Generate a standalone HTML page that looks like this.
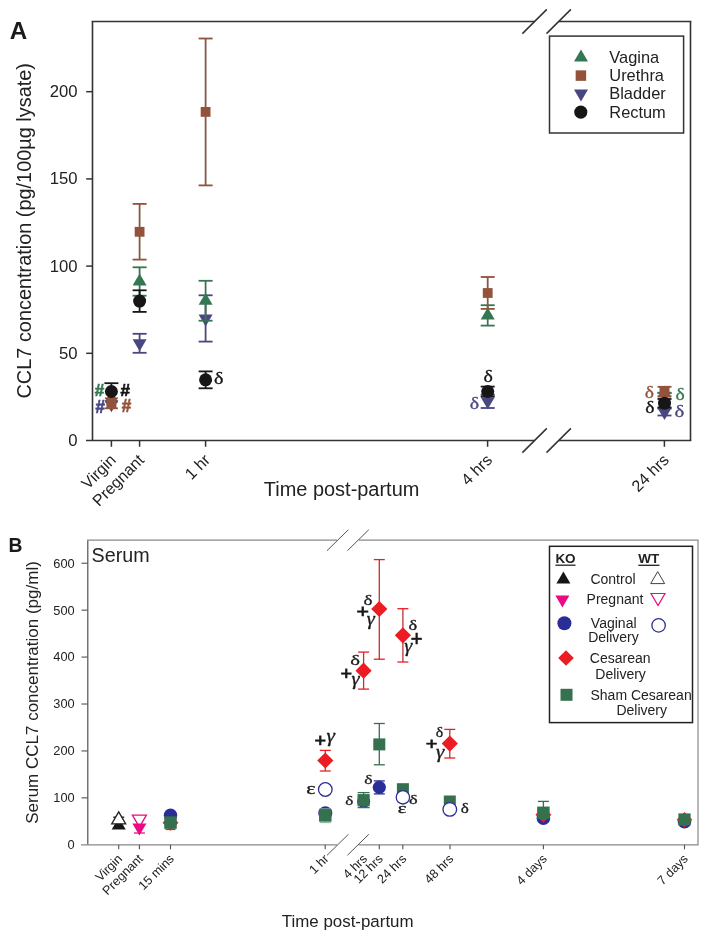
<!DOCTYPE html>
<html><head><meta charset="utf-8"><style>
html,body{margin:0;padding:0;background:#fff;}
svg{display:block;will-change:transform;}
</style></head><body>
<svg width="708" height="940" viewBox="0 0 708 940">
<rect width="708" height="940" fill="#fff"/>
<line x1="92.5" y1="21.5" x2="92.5" y2="440.5" stroke="#333333" stroke-width="1.6"/>
<line x1="91.7" y1="21.5" x2="534.5" y2="21.5" stroke="#333333" stroke-width="1.6"/>
<line x1="558.6" y1="21.5" x2="691.3" y2="21.5" stroke="#333333" stroke-width="1.6"/>
<line x1="690.5" y1="21.5" x2="690.5" y2="440.5" stroke="#333333" stroke-width="1.6"/>
<line x1="86" y1="440.5" x2="534.5" y2="440.5" stroke="#333333" stroke-width="1.6"/>
<line x1="558.6" y1="440.5" x2="691.3" y2="440.5" stroke="#333333" stroke-width="1.6"/>
<line x1="522.4" y1="33.6" x2="546.8000000000001" y2="9.4" stroke="#333333" stroke-width="1.5"/>
<line x1="522.4" y1="452.6" x2="546.8000000000001" y2="428.4" stroke="#333333" stroke-width="1.5"/>
<line x1="546.5" y1="33.6" x2="570.9000000000001" y2="9.4" stroke="#333333" stroke-width="1.5"/>
<line x1="546.5" y1="452.6" x2="570.9000000000001" y2="428.4" stroke="#333333" stroke-width="1.5"/>
<text x="77.6" y="446.0" font-family='"Liberation Sans", sans-serif' font-size="16.7" fill="#222222" text-anchor="end" font-weight="normal" >0</text>
<line x1="86.2" y1="353.3" x2="92.5" y2="353.3" stroke="#333333" stroke-width="1.5"/>
<text x="77.6" y="358.8" font-family='"Liberation Sans", sans-serif' font-size="16.7" fill="#222222" text-anchor="end" font-weight="normal" >50</text>
<line x1="86.2" y1="266.1" x2="92.5" y2="266.1" stroke="#333333" stroke-width="1.5"/>
<text x="77.6" y="271.6" font-family='"Liberation Sans", sans-serif' font-size="16.7" fill="#222222" text-anchor="end" font-weight="normal" >100</text>
<line x1="86.2" y1="178.89999999999998" x2="92.5" y2="178.89999999999998" stroke="#333333" stroke-width="1.5"/>
<text x="77.6" y="184.39999999999998" font-family='"Liberation Sans", sans-serif' font-size="16.7" fill="#222222" text-anchor="end" font-weight="normal" >150</text>
<line x1="86.2" y1="91.69999999999999" x2="92.5" y2="91.69999999999999" stroke="#333333" stroke-width="1.5"/>
<text x="77.6" y="97.19999999999999" font-family='"Liberation Sans", sans-serif' font-size="16.7" fill="#222222" text-anchor="end" font-weight="normal" >200</text>
<line x1="111.4" y1="440.5" x2="111.4" y2="446.8" stroke="#333333" stroke-width="1.5"/>
<text transform="translate(116.9,461) rotate(-45)" font-family='"Liberation Sans", sans-serif' font-size="16.1" fill="#222222" text-anchor="end">Virgin</text>
<line x1="139.6" y1="440.5" x2="139.6" y2="446.8" stroke="#333333" stroke-width="1.5"/>
<text transform="translate(145.1,461) rotate(-45)" font-family='"Liberation Sans", sans-serif' font-size="16.1" fill="#222222" text-anchor="end">Pregnant</text>
<line x1="205.6" y1="440.5" x2="205.6" y2="446.8" stroke="#333333" stroke-width="1.5"/>
<text transform="translate(211.1,461) rotate(-45)" font-family='"Liberation Sans", sans-serif' font-size="16.1" fill="#222222" text-anchor="end">1 hr</text>
<line x1="487.6" y1="440.5" x2="487.6" y2="446.8" stroke="#333333" stroke-width="1.5"/>
<text transform="translate(493.1,461) rotate(-45)" font-family='"Liberation Sans", sans-serif' font-size="16.1" fill="#222222" text-anchor="end">4 hrs</text>
<line x1="664.4" y1="440.5" x2="664.4" y2="446.8" stroke="#333333" stroke-width="1.5"/>
<text transform="translate(669.9,461) rotate(-45)" font-family='"Liberation Sans", sans-serif' font-size="16.1" fill="#222222" text-anchor="end">24 hrs</text>
<text x="341.6" y="495.6" font-family='"Liberation Sans", sans-serif' font-size="19.95" fill="#222222" text-anchor="middle" font-weight="normal" >Time post-partum</text>
<text transform="translate(31,230.8) rotate(-90)" font-family='"Liberation Sans", sans-serif' font-size="19.9" fill="#222222" text-anchor="middle">CCL7 concentration (pg/100&#181;g lysate)</text>
<text x="9.8" y="38.7" font-family='"Liberation Sans", sans-serif' font-size="24.2" fill="#1a1a1a" text-anchor="start" font-weight="bold" >A</text>
<rect x="549.5" y="36.1" width="134.1" height="96.9" fill="#fff" stroke="#333333" stroke-width="1.5"/>
<polygon points="574.0,61.4 588.0,61.4 581,49.4" fill="#347853"/>
<rect x="575.65" y="70.35" width="10.5" height="10.5" fill="#94523a"/>
<polygon points="574.0,89.4 588.0,89.4 581,101.4" fill="#494782"/>
<circle cx="580.8" cy="112.1" r="6.6" fill="#161616"/>
<text x="609.3" y="62.9" font-family='"Liberation Sans", sans-serif' font-size="16.4" fill="#222222" text-anchor="start" font-weight="normal" >Vagina</text>
<text x="609.3" y="81.1" font-family='"Liberation Sans", sans-serif' font-size="16.4" fill="#222222" text-anchor="start" font-weight="normal" >Urethra</text>
<text x="609.3" y="99.3" font-family='"Liberation Sans", sans-serif' font-size="16.4" fill="#222222" text-anchor="start" font-weight="normal" >Bladder</text>
<text x="609.3" y="117.5" font-family='"Liberation Sans", sans-serif' font-size="16.4" fill="#222222" text-anchor="start" font-weight="normal" >Rectum</text>
<polygon points="104.4,402.5 118.4,402.5 111.4,390.5" fill="#347853"/>
<polygon points="104.4,400.3 118.4,400.3 111.4,412.3" fill="#494782"/>
<line x1="111.4" y1="398.3" x2="111.4" y2="408.3" stroke="#855746" stroke-width="1.8"/>
<line x1="104.9" y1="398.3" x2="117.9" y2="398.3" stroke="#94523a" stroke-width="1.8"/>
<line x1="104.9" y1="408.3" x2="117.9" y2="408.3" stroke="#94523a" stroke-width="1.8"/>
<rect x="106.4" y="398.0" width="10" height="10" fill="#94523a"/>
<line x1="111.4" y1="383.2" x2="111.4" y2="392" stroke="#161616" stroke-width="1.8"/>
<line x1="104.4" y1="383.2" x2="118.4" y2="383.2" stroke="#161616" stroke-width="1.8"/>
<circle cx="111.4" cy="391.5" r="6.5" fill="#161616"/>
<line x1="139.6" y1="333.8" x2="139.6" y2="352.8" stroke="#4b4972" stroke-width="1.8"/>
<line x1="132.6" y1="333.8" x2="146.6" y2="333.8" stroke="#494782" stroke-width="1.8"/>
<line x1="132.6" y1="352.8" x2="146.6" y2="352.8" stroke="#494782" stroke-width="1.8"/>
<polygon points="132.6,339.3 146.6,339.3 139.6,351.3" fill="#494782"/>
<line x1="139.6" y1="267.3" x2="139.6" y2="295.7" stroke="#417157" stroke-width="1.8"/>
<line x1="132.6" y1="267.3" x2="146.6" y2="267.3" stroke="#347853" stroke-width="1.8"/>
<line x1="132.6" y1="295.7" x2="146.6" y2="295.7" stroke="#347853" stroke-width="1.8"/>
<polygon points="132.6,285.5 146.6,285.5 139.6,273.5" fill="#347853"/>
<line x1="139.6" y1="203.9" x2="139.6" y2="259.6" stroke="#855746" stroke-width="1.8"/>
<line x1="132.6" y1="203.9" x2="146.6" y2="203.9" stroke="#94523a" stroke-width="1.8"/>
<line x1="132.6" y1="259.6" x2="146.6" y2="259.6" stroke="#94523a" stroke-width="1.8"/>
<rect x="134.7" y="226.9" width="9.8" height="9.8" fill="#94523a"/>
<line x1="139.6" y1="290.3" x2="139.6" y2="311.9" stroke="#161616" stroke-width="1.8"/>
<line x1="132.6" y1="290.3" x2="146.6" y2="290.3" stroke="#161616" stroke-width="1.8"/>
<line x1="132.6" y1="311.9" x2="146.6" y2="311.9" stroke="#161616" stroke-width="1.8"/>
<circle cx="139.6" cy="301.1" r="6.5" fill="#161616"/>
<line x1="205.6" y1="295.3" x2="205.6" y2="341.6" stroke="#4b4972" stroke-width="1.8"/>
<line x1="198.6" y1="295.3" x2="212.6" y2="295.3" stroke="#494782" stroke-width="1.8"/>
<line x1="198.6" y1="341.6" x2="212.6" y2="341.6" stroke="#494782" stroke-width="1.8"/>
<polygon points="198.6,314.5 212.6,314.5 205.6,326.5" fill="#494782"/>
<line x1="205.6" y1="280.8" x2="205.6" y2="320.7" stroke="#417157" stroke-width="1.8"/>
<line x1="198.6" y1="280.8" x2="212.6" y2="280.8" stroke="#347853" stroke-width="1.8"/>
<line x1="198.6" y1="320.7" x2="212.6" y2="320.7" stroke="#347853" stroke-width="1.8"/>
<polygon points="198.6,304.7 212.6,304.7 205.6,292.7" fill="#347853"/>
<line x1="205.6" y1="38.5" x2="205.6" y2="185.4" stroke="#855746" stroke-width="1.8"/>
<line x1="198.6" y1="38.5" x2="212.6" y2="38.5" stroke="#94523a" stroke-width="1.8"/>
<line x1="198.6" y1="185.4" x2="212.6" y2="185.4" stroke="#94523a" stroke-width="1.8"/>
<rect x="200.7" y="107.0" width="9.8" height="9.8" fill="#94523a"/>
<line x1="205.6" y1="371.4" x2="205.6" y2="388.3" stroke="#161616" stroke-width="1.8"/>
<line x1="198.6" y1="371.4" x2="212.6" y2="371.4" stroke="#161616" stroke-width="1.8"/>
<line x1="198.6" y1="388.3" x2="212.6" y2="388.3" stroke="#161616" stroke-width="1.8"/>
<circle cx="205.6" cy="379.8" r="6.5" fill="#161616"/>
<line x1="487.7" y1="394.6" x2="487.7" y2="408" stroke="#4b4972" stroke-width="1.8"/>
<line x1="480.7" y1="394.6" x2="494.7" y2="394.6" stroke="#494782" stroke-width="1.8"/>
<line x1="480.7" y1="408" x2="494.7" y2="408" stroke="#494782" stroke-width="1.8"/>
<polygon points="480.7,397.3 494.7,397.3 487.7,409.3" fill="#494782"/>
<line x1="487.7" y1="305.2" x2="487.7" y2="325.6" stroke="#417157" stroke-width="1.8"/>
<line x1="480.7" y1="305.2" x2="494.7" y2="305.2" stroke="#347853" stroke-width="1.8"/>
<line x1="480.7" y1="325.6" x2="494.7" y2="325.6" stroke="#347853" stroke-width="1.8"/>
<polygon points="480.7,319.4 494.7,319.4 487.7,307.4" fill="#347853"/>
<line x1="487.7" y1="277" x2="487.7" y2="308.9" stroke="#855746" stroke-width="1.8"/>
<line x1="480.7" y1="277" x2="494.7" y2="277" stroke="#94523a" stroke-width="1.8"/>
<line x1="480.7" y1="308.9" x2="494.7" y2="308.9" stroke="#94523a" stroke-width="1.8"/>
<rect x="482.8" y="288.1" width="9.8" height="9.8" fill="#94523a"/>
<line x1="487.7" y1="386.6" x2="487.7" y2="396.4" stroke="#161616" stroke-width="1.8"/>
<line x1="480.7" y1="386.6" x2="494.7" y2="386.6" stroke="#161616" stroke-width="1.8"/>
<line x1="480.7" y1="396.4" x2="494.7" y2="396.4" stroke="#161616" stroke-width="1.8"/>
<circle cx="487.7" cy="391.5" r="6.5" fill="#161616"/>
<line x1="664.5" y1="408.5" x2="664.5" y2="415.5" stroke="#4b4972" stroke-width="1.8"/>
<line x1="657.5" y1="408.5" x2="671.5" y2="408.5" stroke="#494782" stroke-width="1.8"/>
<line x1="657.5" y1="415.5" x2="671.5" y2="415.5" stroke="#494782" stroke-width="1.8"/>
<polygon points="657.5,408.0 671.5,408.0 664.5,420.0" fill="#494782"/>
<line x1="664.5" y1="392.7" x2="664.5" y2="393.2" stroke="#417157" stroke-width="1.8"/>
<line x1="657.5" y1="392.7" x2="671.5" y2="392.7" stroke="#347853" stroke-width="1.8"/>
<line x1="657.5" y1="393.2" x2="671.5" y2="393.2" stroke="#347853" stroke-width="1.8"/>
<polygon points="657.5,397.5 671.5,397.5 664.5,385.5" fill="#347853"/>
<line x1="664.5" y1="386.8" x2="664.5" y2="396.2" stroke="#855746" stroke-width="1.8"/>
<line x1="657.5" y1="386.8" x2="671.5" y2="386.8" stroke="#94523a" stroke-width="1.8"/>
<line x1="657.5" y1="396.2" x2="671.5" y2="396.2" stroke="#94523a" stroke-width="1.8"/>
<rect x="659.5" y="386.5" width="10" height="10" fill="#94523a"/>
<line x1="664.5" y1="399" x2="664.5" y2="407.5" stroke="#161616" stroke-width="1.8"/>
<line x1="657.5" y1="399" x2="671.5" y2="399" stroke="#161616" stroke-width="1.8"/>
<line x1="657.5" y1="407.5" x2="671.5" y2="407.5" stroke="#161616" stroke-width="1.8"/>
<circle cx="664.5" cy="403.2" r="6.5" fill="#161616"/>
<text transform="translate(94.80,396.00) scale(0.982,1)" font-family='"Liberation Sans", sans-serif' font-size="17.35" font-weight="bold" font-style="normal" fill="#347853" stroke="#347853" stroke-width="0.70">#</text>
<text transform="translate(120.50,396.00) scale(0.982,1)" font-family='"Liberation Sans", sans-serif' font-size="17.35" font-weight="bold" font-style="normal" fill="#161616" stroke="#161616" stroke-width="0.70">#</text>
<text transform="translate(95.40,412.80) scale(0.934,1)" font-family='"Liberation Sans", sans-serif' font-size="18.24" font-weight="bold" font-style="normal" fill="#494782" stroke="#494782" stroke-width="0.70">#</text>
<text transform="translate(121.80,412.20) scale(0.912,1)" font-family='"Liberation Sans", sans-serif' font-size="18.68" font-weight="bold" font-style="normal" fill="#94523a" stroke="#94523a" stroke-width="0.70">#</text>
<text transform="translate(213.95,384.13) scale(1.201,1)" font-family='"Liberation Serif", serif' font-size="16.76" font-weight="normal" font-style="normal" fill="#161616" stroke="#161616" stroke-width="0.30">&#948;</text>
<text transform="translate(483.45,382.24) scale(1.249,1)" font-family='"Liberation Serif", serif' font-size="15.92" font-weight="normal" font-style="normal" fill="#161616" stroke="#161616" stroke-width="0.30">&#948;</text>
<text transform="translate(469.75,408.64) scale(1.249,1)" font-family='"Liberation Serif", serif' font-size="15.92" font-weight="normal" font-style="normal" fill="#494782" stroke="#494782" stroke-width="0.30">&#948;</text>
<text transform="translate(644.86,397.73) scale(1.181,1)" font-family='"Liberation Serif", serif' font-size="16.62" font-weight="normal" font-style="normal" fill="#94523a" stroke="#94523a" stroke-width="0.30">&#948;</text>
<text transform="translate(675.56,399.73) scale(1.181,1)" font-family='"Liberation Serif", serif' font-size="16.62" font-weight="normal" font-style="normal" fill="#347853" stroke="#347853" stroke-width="0.30">&#948;</text>
<text transform="translate(645.36,413.04) scale(1.244,1)" font-family='"Liberation Serif", serif' font-size="15.77" font-weight="normal" font-style="normal" fill="#161616" stroke="#161616" stroke-width="0.30">&#948;</text>
<text transform="translate(674.52,416.53) scale(1.205,1)" font-family='"Liberation Serif", serif' font-size="17.32" font-weight="normal" font-style="normal" fill="#494782" stroke="#494782" stroke-width="0.30">&#948;</text>
<line x1="87.8" y1="540.2" x2="87.8" y2="844.8" stroke="#505050" stroke-width="1.2"/>
<line x1="87.0" y1="540.2" x2="337" y2="540.2" stroke="#888" stroke-width="1.2"/>
<line x1="358.6" y1="540.2" x2="698.5" y2="540.2" stroke="#888" stroke-width="1.2"/>
<line x1="698" y1="540.2" x2="698" y2="844.8" stroke="#888" stroke-width="1.2"/>
<line x1="81" y1="844.8" x2="337" y2="844.8" stroke="#888" stroke-width="1.2"/>
<line x1="358.6" y1="844.8" x2="698.5" y2="844.8" stroke="#888" stroke-width="1.2"/>
<line x1="327.0" y1="550.7" x2="348.4" y2="529.7" stroke="#555" stroke-width="1.0"/>
<line x1="327.0" y1="855.3" x2="348.4" y2="834.3" stroke="#555" stroke-width="1.0"/>
<line x1="347.40000000000003" y1="550.7" x2="368.8" y2="529.7" stroke="#555" stroke-width="1.0"/>
<line x1="347.40000000000003" y1="855.3" x2="368.8" y2="834.3" stroke="#555" stroke-width="1.0"/>
<text x="74.7" y="849.1999999999999" font-family='"Liberation Sans", sans-serif' font-size="12.8" fill="#222222" text-anchor="end" font-weight="normal" >0</text>
<line x1="81.5" y1="797.87" x2="87.5" y2="797.87" stroke="#505050" stroke-width="1.1"/>
<text x="74.7" y="802.27" font-family='"Liberation Sans", sans-serif' font-size="12.8" fill="#222222" text-anchor="end" font-weight="normal" >100</text>
<line x1="81.5" y1="750.9399999999999" x2="87.5" y2="750.9399999999999" stroke="#505050" stroke-width="1.1"/>
<text x="74.7" y="755.3399999999999" font-family='"Liberation Sans", sans-serif' font-size="12.8" fill="#222222" text-anchor="end" font-weight="normal" >200</text>
<line x1="81.5" y1="704.01" x2="87.5" y2="704.01" stroke="#505050" stroke-width="1.1"/>
<text x="74.7" y="708.41" font-family='"Liberation Sans", sans-serif' font-size="12.8" fill="#222222" text-anchor="end" font-weight="normal" >300</text>
<line x1="81.5" y1="657.0799999999999" x2="87.5" y2="657.0799999999999" stroke="#505050" stroke-width="1.1"/>
<text x="74.7" y="661.4799999999999" font-family='"Liberation Sans", sans-serif' font-size="12.8" fill="#222222" text-anchor="end" font-weight="normal" >400</text>
<line x1="81.5" y1="610.15" x2="87.5" y2="610.15" stroke="#505050" stroke-width="1.1"/>
<text x="74.7" y="614.55" font-family='"Liberation Sans", sans-serif' font-size="12.8" fill="#222222" text-anchor="end" font-weight="normal" >500</text>
<line x1="81.5" y1="563.22" x2="87.5" y2="563.22" stroke="#505050" stroke-width="1.1"/>
<text x="74.7" y="567.62" font-family='"Liberation Sans", sans-serif' font-size="12.8" fill="#222222" text-anchor="end" font-weight="normal" >600</text>
<line x1="118.7" y1="844.8" x2="118.7" y2="849.3" stroke="#505050" stroke-width="1.1"/>
<text transform="translate(123.0,859.5) rotate(-45)" font-family='"Liberation Sans", sans-serif' font-size="12.6" fill="#222222" text-anchor="end">Virgin</text>
<line x1="139.4" y1="844.8" x2="139.4" y2="849.3" stroke="#505050" stroke-width="1.1"/>
<text transform="translate(143.70000000000002,859.5) rotate(-45)" font-family='"Liberation Sans", sans-serif' font-size="12.6" fill="#222222" text-anchor="end">Pregnant</text>
<line x1="170.5" y1="844.8" x2="170.5" y2="849.3" stroke="#505050" stroke-width="1.1"/>
<text transform="translate(174.8,859.5) rotate(-45)" font-family='"Liberation Sans", sans-serif' font-size="12.6" fill="#222222" text-anchor="end">15 mins</text>
<line x1="325.2" y1="844.8" x2="325.2" y2="849.3" stroke="#505050" stroke-width="1.1"/>
<text transform="translate(329.5,859.5) rotate(-45)" font-family='"Liberation Sans", sans-serif' font-size="12.6" fill="#222222" text-anchor="end">1 hr</text>
<text transform="translate(367.90000000000003,859.5) rotate(-45)" font-family='"Liberation Sans", sans-serif' font-size="12.6" fill="#222222" text-anchor="end">4 hrs</text>
<line x1="379.3" y1="844.8" x2="379.3" y2="849.3" stroke="#505050" stroke-width="1.1"/>
<text transform="translate(383.6,859.5) rotate(-45)" font-family='"Liberation Sans", sans-serif' font-size="12.6" fill="#222222" text-anchor="end">12 hrs</text>
<line x1="402.8" y1="844.8" x2="402.8" y2="849.3" stroke="#505050" stroke-width="1.1"/>
<text transform="translate(407.1,859.5) rotate(-45)" font-family='"Liberation Sans", sans-serif' font-size="12.6" fill="#222222" text-anchor="end">24 hrs</text>
<line x1="450" y1="844.8" x2="450" y2="849.3" stroke="#505050" stroke-width="1.1"/>
<text transform="translate(454.3,859.5) rotate(-45)" font-family='"Liberation Sans", sans-serif' font-size="12.6" fill="#222222" text-anchor="end">48 hrs</text>
<line x1="543.4" y1="844.8" x2="543.4" y2="849.3" stroke="#505050" stroke-width="1.1"/>
<text transform="translate(547.6999999999999,859.5) rotate(-45)" font-family='"Liberation Sans", sans-serif' font-size="12.6" fill="#222222" text-anchor="end">4 days</text>
<line x1="684.5" y1="844.8" x2="684.5" y2="849.3" stroke="#505050" stroke-width="1.1"/>
<text transform="translate(688.8,859.5) rotate(-45)" font-family='"Liberation Sans", sans-serif' font-size="12.6" fill="#222222" text-anchor="end">7 days</text>
<text x="347.7" y="926.8" font-family='"Liberation Sans", sans-serif' font-size="16.9" fill="#222222" text-anchor="middle" font-weight="normal" >Time post-partum</text>
<text transform="translate(38.3,692.5) rotate(-90)" font-family='"Liberation Sans", sans-serif' font-size="17" fill="#222222" text-anchor="middle">Serum CCL7 concentration (pg/ml)</text>
<text x="8.4" y="552" font-family='"Liberation Sans", sans-serif' font-size="19.3" fill="#1a1a1a" text-anchor="start" font-weight="bold" >B</text>
<text x="91.6" y="561.7" font-family='"Liberation Sans", sans-serif' font-size="19.7" fill="#222" text-anchor="start" font-weight="normal" >Serum</text>
<rect x="549.5" y="546.3" width="143" height="176.3" fill="#fff" stroke="#222" stroke-width="1.5"/>
<text x="565.5" y="563.2" font-family='"Liberation Sans", sans-serif' font-size="13.5" fill="#222" text-anchor="middle" font-weight="bold" >KO</text>
<line x1="555.4" y1="565.2" x2="575.5" y2="565.2" stroke="#222" stroke-width="1.3"/>
<text x="648.7" y="563.0" font-family='"Liberation Sans", sans-serif' font-size="13.5" fill="#222" text-anchor="middle" font-weight="bold" >WT</text>
<line x1="638.3" y1="565.3" x2="659.5" y2="565.3" stroke="#222" stroke-width="1.3"/>
<polygon points="556.4,583.6 570.4,583.6 563.4,571.6" fill="#161616"/>
<polygon points="650.7,583.6 664.7,583.6 657.7,571.6" fill="#fff" stroke="#444" stroke-width="1.0"/>
<polygon points="555.4,595.4 569.4,595.4 562.4,607.4" fill="#eb0a84"/>
<polygon points="651.0,593.5 665.0,593.5 658,605.5" fill="#fff" stroke="#eb0a84" stroke-width="1.2"/>
<circle cx="564.4" cy="623.2" r="7" fill="#2b2d96"/>
<circle cx="658.6" cy="625.4" r="6.7" fill="#fff" stroke="#2b2d96" stroke-width="1.3"/>
<polygon points="558.2,658 566,650.2 573.8,658 566,665.8" fill="#ec1c24"/>
<rect x="560.5" y="688.8" width="12" height="12" fill="#35704f"/>
<text x="613" y="584.1" font-family='"Liberation Sans", sans-serif' font-size="14" fill="#222222" text-anchor="middle" font-weight="normal" >Control</text>
<text x="615" y="604.4000000000001" font-family='"Liberation Sans", sans-serif' font-size="14" fill="#222222" text-anchor="middle" font-weight="normal" >Pregnant</text>
<text x="613.7" y="628.4000000000001" font-family='"Liberation Sans", sans-serif' font-size="14" fill="#222222" text-anchor="middle" font-weight="normal" >Vaginal</text>
<text x="613.5" y="642.4000000000001" font-family='"Liberation Sans", sans-serif' font-size="14" fill="#222222" text-anchor="middle" font-weight="normal" >Delivery</text>
<text x="620.2" y="662.7" font-family='"Liberation Sans", sans-serif' font-size="14" fill="#222222" text-anchor="middle" font-weight="normal" >Cesarean</text>
<text x="620.6" y="678.6" font-family='"Liberation Sans", sans-serif' font-size="14" fill="#222222" text-anchor="middle" font-weight="normal" >Delivery</text>
<text x="641.1" y="700.0" font-family='"Liberation Sans", sans-serif' font-size="14" fill="#222222" text-anchor="middle" font-weight="normal" >Sham Cesarean</text>
<text x="641.7" y="714.7" font-family='"Liberation Sans", sans-serif' font-size="14" fill="#222222" text-anchor="middle" font-weight="normal" >Delivery</text>
<line x1="113.2" y1="817.2" x2="124.2" y2="817.2" stroke="#161616" stroke-width="1.3"/>
<line x1="118.7" y1="817.2" x2="118.7" y2="826" stroke="#161616" stroke-width="1.3"/>
<polygon points="111.7,829.5 125.7,829.5 118.7,817.5" fill="#161616"/>
<polygon points="111.7,823.8 125.7,823.8 118.7,811.8" fill="#fff" stroke="#222" stroke-width="1.3"/>
<polygon points="132.4,815.1 146.4,815.1 139.4,827.1" fill="#fff" stroke="#eb0a84" stroke-width="1.3"/>
<line x1="139.4" y1="826" x2="139.4" y2="833" stroke="#eb0a84" stroke-width="1.3"/>
<line x1="133.9" y1="833" x2="144.9" y2="833" stroke="#eb0a84" stroke-width="1.3"/>
<polygon points="132.4,823.6 146.4,823.6 139.4,835.6" fill="#eb0a84"/>
<line x1="170.5" y1="816" x2="170.5" y2="829.5" stroke="#c12f35" stroke-width="1.2"/>
<line x1="165.5" y1="816" x2="175.5" y2="816" stroke="#ec1c24" stroke-width="1.2"/>
<line x1="165.5" y1="829.5" x2="175.5" y2="829.5" stroke="#ec1c24" stroke-width="1.2"/>
<polygon points="162.5,822.7 170.5,814.7 178.5,822.7 170.5,830.7" fill="#ec1c24"/>
<circle cx="170.5" cy="815.3" r="6.7" fill="#2b2d96"/>
<rect x="164.25" y="816.35" width="12.5" height="12.5" fill="#35704f"/>
<line x1="325.3" y1="750.4" x2="325.3" y2="771" stroke="#c12f35" stroke-width="1.3"/>
<line x1="319.8" y1="750.4" x2="330.8" y2="750.4" stroke="#ec1c24" stroke-width="1.3"/>
<line x1="319.8" y1="771" x2="330.8" y2="771" stroke="#ec1c24" stroke-width="1.3"/>
<polygon points="317.2,760.5 325.3,752.4 333.40000000000003,760.5 325.3,768.6" fill="#ec1c24"/>
<circle cx="325.3" cy="789.5" r="6.8" fill="#fff" stroke="#2b2d96" stroke-width="1.3"/>
<circle cx="325.3" cy="813.3" r="7" fill="#2b2d96"/>
<line x1="325.3" y1="809" x2="325.3" y2="822.5" stroke="#97b4a3" stroke-width="1.3"/>
<line x1="319.8" y1="809" x2="330.8" y2="809" stroke="#8fb9a0" stroke-width="1.3"/>
<line x1="319.8" y1="822.5" x2="330.8" y2="822.5" stroke="#8fb9a0" stroke-width="1.3"/>
<rect x="319.05" y="809.15" width="12.5" height="12.5" fill="#35704f"/>
<line x1="363.6" y1="652.1" x2="363.6" y2="689.1" stroke="#c12f35" stroke-width="1.3"/>
<line x1="358.1" y1="652.1" x2="369.1" y2="652.1" stroke="#ec1c24" stroke-width="1.3"/>
<line x1="358.1" y1="689.1" x2="369.1" y2="689.1" stroke="#ec1c24" stroke-width="1.3"/>
<polygon points="355.5,670.7 363.6,662.6 371.70000000000005,670.7 363.6,678.8000000000001" fill="#ec1c24"/>
<circle cx="363.6" cy="801.5" r="6.5" fill="#2b2d96"/>
<line x1="363.6" y1="792.6" x2="363.6" y2="807.6" stroke="#406a52" stroke-width="1.3"/>
<line x1="357.6" y1="792.6" x2="369.6" y2="792.6" stroke="#35704f" stroke-width="1.3"/>
<line x1="357.6" y1="807.6" x2="369.6" y2="807.6" stroke="#35704f" stroke-width="1.3"/>
<rect x="357.5" y="794.1" width="12.2" height="12.2" fill="#35704f"/>
<line x1="379.3" y1="559.6" x2="379.3" y2="659.2" stroke="#c12f35" stroke-width="1.3"/>
<line x1="373.8" y1="559.6" x2="384.8" y2="559.6" stroke="#ec1c24" stroke-width="1.3"/>
<line x1="373.8" y1="659.2" x2="384.8" y2="659.2" stroke="#ec1c24" stroke-width="1.3"/>
<polygon points="371.2,609 379.3,600.9 387.40000000000003,609 379.3,617.1" fill="#ec1c24"/>
<line x1="379.3" y1="723.5" x2="379.3" y2="764.8" stroke="#406a52" stroke-width="1.3"/>
<line x1="373.8" y1="723.5" x2="384.8" y2="723.5" stroke="#35704f" stroke-width="1.3"/>
<line x1="373.8" y1="764.8" x2="384.8" y2="764.8" stroke="#35704f" stroke-width="1.3"/>
<rect x="373.3" y="738.4" width="12" height="12" fill="#35704f"/>
<line x1="379.3" y1="780.9" x2="379.3" y2="793.9" stroke="#2f307a" stroke-width="1.3"/>
<line x1="373.8" y1="780.9" x2="384.8" y2="780.9" stroke="#2b2d96" stroke-width="1.3"/>
<line x1="373.8" y1="793.9" x2="384.8" y2="793.9" stroke="#2b2d96" stroke-width="1.3"/>
<circle cx="379.3" cy="787.3" r="6.6" fill="#2b2d96"/>
<line x1="402.9" y1="608.7" x2="402.9" y2="662" stroke="#c12f35" stroke-width="1.3"/>
<line x1="397.4" y1="608.7" x2="408.4" y2="608.7" stroke="#ec1c24" stroke-width="1.3"/>
<line x1="397.4" y1="662" x2="408.4" y2="662" stroke="#ec1c24" stroke-width="1.3"/>
<polygon points="394.79999999999995,635.3 402.9,627.1999999999999 411.0,635.3 402.9,643.4" fill="#ec1c24"/>
<rect x="396.9" y="783.2" width="12" height="12" fill="#35704f"/>
<circle cx="402.9" cy="797.3" r="6.7" fill="#fff" stroke="#2b2d96" stroke-width="1.3"/>
<line x1="449.8" y1="729.4" x2="449.8" y2="758" stroke="#c12f35" stroke-width="1.3"/>
<line x1="444.3" y1="729.4" x2="455.3" y2="729.4" stroke="#ec1c24" stroke-width="1.3"/>
<line x1="444.3" y1="758" x2="455.3" y2="758" stroke="#ec1c24" stroke-width="1.3"/>
<polygon points="441.7,743.6 449.8,735.5 457.90000000000003,743.6 449.8,751.7" fill="#ec1c24"/>
<rect x="443.8" y="795.5" width="12" height="12" fill="#35704f"/>
<circle cx="449.8" cy="809.4" r="6.8" fill="#fff" stroke="#2b2d96" stroke-width="1.3"/>
<line x1="543.4" y1="801.4" x2="543.4" y2="812" stroke="#35704f" stroke-width="1.3"/>
<line x1="537.9" y1="801.4" x2="548.9" y2="801.4" stroke="#35704f" stroke-width="1.3"/>
<circle cx="543.4" cy="818.2" r="6.8" fill="#2b2d96"/>
<polygon points="535.4,814.7 543.4,806.7 551.4,814.7 543.4,822.7" fill="#ec1c24"/>
<rect x="537.15" y="806.55" width="12.5" height="12.5" fill="#35704f"/>
<circle cx="684.5" cy="821.7" r="6.8" fill="#2b2d96"/>
<polygon points="676.7,819.8 684.5,812.0 692.3,819.8 684.5,827.5999999999999" fill="#ec1c24"/>
<rect x="678.4" y="813.4" width="12.2" height="12.2" fill="#35704f"/>
<text transform="translate(363.38,604.55) scale(1.269,1)" font-family='"Liberation Serif", serif' font-size="15.07" font-weight="normal" font-style="normal" fill="#1a1a1a" stroke="#1a1a1a" stroke-width="0.30">&#948;</text>
<text transform="translate(356.39,618.16) scale(1.124,1)" font-family='"Liberation Sans", sans-serif' font-size="18.98" font-weight="normal" font-style="normal" fill="#1a1a1a" stroke="#1a1a1a" stroke-width="0.70">+</text>
<text transform="translate(366.84,625.22) scale(1.094,1)" font-family='"Liberation Serif", serif' font-size="18.74" font-weight="normal" font-style="italic" fill="#1a1a1a" stroke="#1a1a1a" stroke-width="0.30">&#947;</text>
<text transform="translate(408.61,630.06) scale(1.344,1)" font-family='"Liberation Serif", serif' font-size="13.66" font-weight="normal" font-style="normal" fill="#1a1a1a" stroke="#1a1a1a" stroke-width="0.30">&#948;</text>
<text transform="translate(410.65,645.68) scale(0.938,1)" font-family='"Liberation Sans", sans-serif' font-size="21.43" font-weight="normal" font-style="normal" fill="#1a1a1a" stroke="#1a1a1a" stroke-width="0.70">+</text>
<text transform="translate(404.14,651.88) scale(1.139,1)" font-family='"Liberation Serif", serif' font-size="17.99" font-weight="normal" font-style="italic" fill="#1a1a1a" stroke="#1a1a1a" stroke-width="0.30">&#947;</text>
<text transform="translate(350.23,665.15) scale(1.395,1)" font-family='"Liberation Serif", serif' font-size="14.79" font-weight="normal" font-style="normal" fill="#1a1a1a" stroke="#1a1a1a" stroke-width="0.30">&#948;</text>
<text transform="translate(340.55,679.71) scale(1.083,1)" font-family='"Liberation Sans", sans-serif' font-size="18.37" font-weight="normal" font-style="normal" fill="#1a1a1a" stroke="#1a1a1a" stroke-width="0.70">+</text>
<text transform="translate(351.44,685.38) scale(1.139,1)" font-family='"Liberation Serif", serif' font-size="17.99" font-weight="normal" font-style="italic" fill="#1a1a1a" stroke="#1a1a1a" stroke-width="0.30">&#947;</text>
<text transform="translate(314.55,746.64) scale(1.134,1)" font-family='"Liberation Sans", sans-serif' font-size="17.55" font-weight="normal" font-style="normal" fill="#1a1a1a" stroke="#1a1a1a" stroke-width="0.70">+</text>
<text transform="translate(326.62,741.85) scale(1.157,1)" font-family='"Liberation Serif", serif' font-size="18.59" font-weight="normal" font-style="italic" fill="#1a1a1a" stroke="#1a1a1a" stroke-width="0.30">&#947;</text>
<text transform="translate(306.28,793.54) scale(1.370,1)" font-family='"Liberation Serif", serif' font-size="16.04" font-weight="normal" font-style="normal" fill="#1a1a1a" stroke="#1a1a1a" stroke-width="0.35">&#949;</text>
<text transform="translate(435.71,736.56) scale(1.125,1)" font-family='"Liberation Serif", serif' font-size="14.08" font-weight="normal" font-style="normal" fill="#1a1a1a" stroke="#1a1a1a" stroke-width="0.30">&#948;</text>
<text transform="translate(425.75,749.42) scale(1.159,1)" font-family='"Liberation Sans", sans-serif' font-size="17.35" font-weight="normal" font-style="normal" fill="#1a1a1a" stroke="#1a1a1a" stroke-width="0.70">+</text>
<text transform="translate(435.93,758.44) scale(1.158,1)" font-family='"Liberation Serif", serif' font-size="18.14" font-weight="normal" font-style="italic" fill="#1a1a1a" stroke="#1a1a1a" stroke-width="0.30">&#947;</text>
<text transform="translate(460.66,813.16) scale(1.215,1)" font-family='"Liberation Serif", serif' font-size="14.08" font-weight="normal" font-style="normal" fill="#1a1a1a" stroke="#1a1a1a" stroke-width="0.30">&#948;</text>
<text transform="translate(345.26,804.76) scale(1.265,1)" font-family='"Liberation Serif", serif' font-size="13.52" font-weight="normal" font-style="normal" fill="#1a1a1a" stroke="#1a1a1a" stroke-width="0.30">&#948;</text>
<text transform="translate(364.24,783.86) scale(1.302,1)" font-family='"Liberation Serif", serif' font-size="13.52" font-weight="normal" font-style="normal" fill="#1a1a1a" stroke="#1a1a1a" stroke-width="0.30">&#948;</text>
<text transform="translate(409.11,804.17) scale(1.373,1)" font-family='"Liberation Serif", serif' font-size="13.38" font-weight="normal" font-style="normal" fill="#1a1a1a" stroke="#1a1a1a" stroke-width="0.30">&#948;</text>
<text transform="translate(397.73,812.65) scale(1.352,1)" font-family='"Liberation Serif", serif' font-size="15.21" font-weight="normal" font-style="normal" fill="#1a1a1a" stroke="#1a1a1a" stroke-width="0.35">&#949;</text>
</svg>
</body></html>
